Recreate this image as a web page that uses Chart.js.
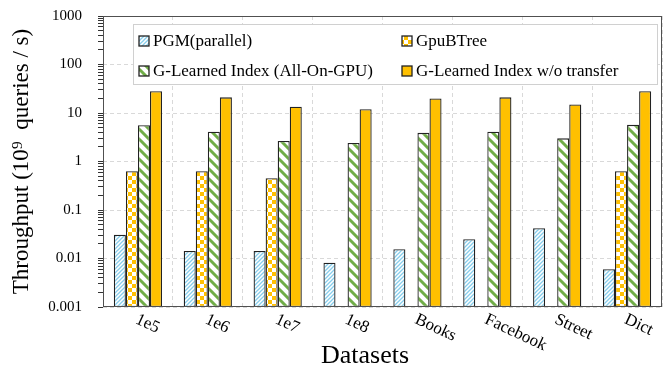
<!DOCTYPE html>
<html><head><meta charset="utf-8">
<script src="https://cdn.jsdelivr.net/npm/chart.js@4/dist/chart.umd.min.js"></script>
<style>html,body{margin:0;padding:0;background:#fff;}canvas{display:block;}</style>
</head><body>
<canvas id="c" width="664" height="368"></canvas>
<script>
const categories = ['1e5', '1e6', '1e7', '1e8', 'Books', 'Facebook', 'Street', 'Dict'];
const pgmParallel = [0.031, 0.0143, 0.0143, 0.0082, 0.0155, 0.025, 0.042, 0.006];
const gpuBTree = [0.63, 0.63, 0.45, null, null, null, null, 0.63];
const gLearnedAllOnGPU = [5.6, 4.1, 2.65, 2.4, 3.9, 4.1, 3.0, 5.7];
const gLearnedNoTransfer = [28, 21, 13.5, 12, 20, 21, 15, 28];
const seriesNames = ['PGM(parallel)', 'GpuBTree', 'G-Learned Index (All-On-GPU)', 'G-Learned Index w/o transfer'];
const yTickLabels = ['0.001', '0.01', '0.1', '1', '10', '100', '1000'];
const xTitle = 'Datasets';
const yTitle = 'Throughput (10\u2079  queries / s)';

const SERIF = '"Liberation Serif", "Times New Roman", serif';

function makePattern(kind) {
  const c = document.createElement('canvas');
  const g = c.getContext('2d');
  let s;
  if (kind === 'blue') {
    s = 4; c.width = c.height = s;
    g.fillStyle = '#fff'; g.fillRect(0, 0, s, s);
    g.strokeStyle = '#86cdeb'; g.lineWidth = 1.3;
    g.beginPath();
    g.moveTo(0, s); g.lineTo(s, 0);
    g.moveTo(-1, 1); g.lineTo(1, -1);
    g.moveTo(s - 1, s + 1); g.lineTo(s + 1, s - 1);
    g.stroke();
  } else if (kind === 'green') {
    s = 10; c.width = c.height = s;
    g.fillStyle = '#fff'; g.fillRect(0, 0, s, s);
    g.strokeStyle = '#70ad47'; g.lineWidth = 3;
    g.beginPath();
    g.moveTo(0, 0); g.lineTo(s, s);
    g.moveTo(-3, s - 3); g.lineTo(3, s + 3);
    g.moveTo(s - 3, -3); g.lineTo(s + 3, 3);
    g.stroke();
  } else if (kind === 'checker') {
    s = 8; c.width = c.height = s;
    g.fillStyle = '#fff'; g.fillRect(0, 0, s, s);
    g.fillStyle = '#ffc000';
    g.fillRect(0, 0, 4, 4); g.fillRect(4, 4, 4, 4);
  }
  return g.createPattern(c, 'repeat');
}
const fills = [makePattern('blue'), makePattern('checker'), makePattern('green'), '#ffc000'];
const seriesData = [pgmParallel, gpuBTree, gLearnedAllOnGPU, gLearnedNoTransfer];

function isDecade(v) {
  const l = Math.log10(v);
  return Math.abs(l - Math.round(l)) < 1e-6;
}

const customDraw = {
  id: 'customDraw',
  afterDatasetsDraw(chart) {
    const { ctx, chartArea: a, scales: { x } } = chart;
    ctx.save();
    // frame
    ctx.strokeStyle = '#505050';
    ctx.lineWidth = 1;
    ctx.strokeRect(Math.round(a.left) + 0.5, Math.round(a.top) + 0.5, Math.round(a.right - a.left) - 1, Math.round(a.bottom - a.top) - 1);
    // legend
    const lx = 133.5, ly = 24.5, lw = 524, lh = 60;
    ctx.fillStyle = '#fff';
    ctx.fillRect(lx, ly, lw, lh);
    ctx.strokeStyle = '#d0d0d0';
    ctx.strokeRect(lx, ly, lw, lh);
    const pos = [[139, 41], [402, 41], [139, 71], [402, 71]];
    ctx.font = '17px ' + SERIF;
    ctx.textBaseline = 'middle';
    ctx.textAlign = 'left';
    seriesNames.forEach((name, i) => {
      const [px, py] = pos[i];
      ctx.fillStyle = fills[i];
      ctx.fillRect(px, py - 5, 10, 10);
      ctx.strokeStyle = '#222';
      ctx.lineWidth = 1.3;
      ctx.strokeRect(px, py - 5, 10, 10);
      ctx.fillStyle = '#000';
      ctx.fillText(name, px + 14, py + 1);
    });
    // x tick labels (rotated clockwise)
    ctx.font = '17px ' + SERIF;
    ctx.textBaseline = 'top';
    ctx.textAlign = 'left';
    ctx.fillStyle = '#000';
    categories.forEach((lab, i) => {
      const px = x.getPixelForTick(i);
      ctx.save();
      ctx.translate(px + 2, a.bottom + 4);
      ctx.rotate(25 * Math.PI / 180);
      ctx.fillText(lab, 0, 0);
      ctx.restore();
    });
    // x title
    ctx.font = '26px ' + SERIF;
    ctx.textAlign = 'center';
    ctx.textBaseline = 'alphabetic';
    ctx.fillText(xTitle, 365, 363);
    ctx.restore();
  }
};

new Chart(document.getElementById('c'), {
  type: 'bar',
  data: {
    labels: categories,
    datasets: seriesNames.map((name, i) => ({
      label: name,
      data: seriesData[i],
      backgroundColor: fills[i],
      borderColor: '#222',
      borderWidth: 1.3,
      borderSkipped: false
    }))
  },
  options: {
    responsive: false,
    animation: false,
    devicePixelRatio: 1,
    layout: { padding: { top: 16, right: 2, left: 0, bottom: 0 } },
    datasets: { bar: { categoryPercentage: 0.69, barPercentage: 1.0 } },
    plugins: { legend: { display: false }, tooltip: { enabled: false } },
    scales: {
      x: {
        ticks: { display: false },
        grid: { color: '#d9d9d9', drawTicks: false, offset: true, lineWidth: 1 },
        border: { display: false, dash: [4, 3] },
        afterFit: (s) => { s.height = 61; s.paddingLeft = 0; s.paddingRight = 0; }
      },
      y: {
        type: 'logarithmic',
        min: 0.001,
        max: 1000,
        afterBuildTicks: (scale) => {
          const t = [];
          yTickLabels.forEach((lab, i) => {
            const v = Number(lab);
            t.push({ value: v });
            if (i < yTickLabels.length - 1) {
              for (let m = 2; m <= 9; m++) t.push({ value: v * m });
            }
          });
          scale.ticks = t;
        },
        ticks: {
          autoSkip: false,
          font: { family: SERIF, size: 15 },
          color: '#000',
          padding: 16,
          callback: (v) => {
            const i = yTickLabels.findIndex(l => Math.abs(Number(l) - v) / v < 1e-6);
            return i >= 0 ? yTickLabels[i] : '';
          }
        },
        grid: {
          color: (ctx) => (ctx.tick && isDecade(ctx.tick.value)) ? '#d9d9d9' : 'rgba(0,0,0,0)',
          tickColor: '#333',
          tickLength: 5,
          lineWidth: 1
        },
        border: { display: false, dash: [4, 3] },
        title: {
          display: true,
          text: yTitle,
          font: { family: SERIF, size: 23 },
          color: '#000',
          padding: { top: 8, bottom: 0 }
        },
        afterFit: (s) => { s.width = 103; s.paddingTop = 0; s.paddingBottom = 0; }
      }
    }
  },
  plugins: [customDraw]
});
</script>
</body></html>
